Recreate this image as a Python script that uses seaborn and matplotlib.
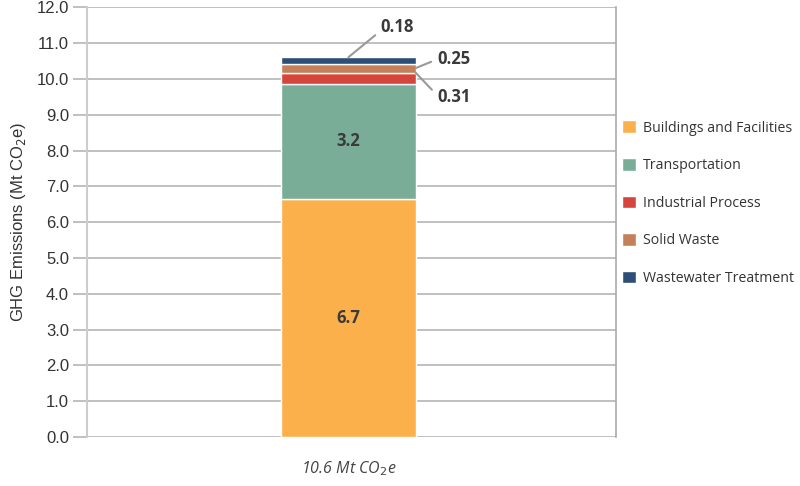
import matplotlib
matplotlib.use("Agg")
import matplotlib.pyplot as plt
import seaborn as sns

# data
categories = ["Buildings and Facilities", "Transportation", "Industrial Process",
              "Solid Waste", "Wastewater Treatment"]
values = [6.65, 3.22, 0.31, 0.25, 0.18]
value_labels = ["6.7", "3.2", "0.31", "0.25", "0.18"]
colors = ["#FBB04B", "#79AD98", "#D6453B", "#C4805A", "#2C4E77"]
bar_label = "10.6 Mt CO$_2$e"
yticks = [0, 1, 2, 3, 4, 5, 6, 7, 8, 9, 10, 11, 12]

sns.set_style("white")
plt.rcParams["font.family"] = ["Open Sans", "DejaVu Sans"]

fig = plt.figure(figsize=(8, 4.86), dpi=100)
ax = fig.add_axes([0.10875, 0.1008, 0.66125, 0.8838])

bottom = 0
bottoms = []
for cat, val, col in zip(categories, values, colors):
    sns.barplot(x=[bar_label], y=[val], bottom=bottom, color=col, width=0.5,
                saturation=1, edgecolor="white", linewidth=1.0, label=cat,
                ax=ax, zorder=3)
    bottoms.append(bottom)
    bottom += val
handles, labels = ax.get_legend_handles_labels()
if ax.get_legend() is not None:
    ax.get_legend().remove()

ax.set_xlim(-0.973, 0.996)
ax.set_ylim(0, 12)
ax.set_yticks(yticks)
ax.set_yticklabels([f"{t:.1f}" for t in yticks], family="Liberation Sans",
                   fontsize=12, color="#333333")
ax.yaxis.grid(True, color="#b5b5b5", linewidth=1.2, zorder=0)
ax.tick_params(axis="y", length=10, width=1.2, color="#b5b5b5", left=True, pad=3)
ax.tick_params(axis="x", length=0, pad=16)
for lab in ax.get_xticklabels():
    lab.set_fontstyle("italic")
    lab.set_fontsize(11.5)
    lab.set_color("#444444")

for side in ["top", "bottom"]:
    ax.spines[side].set_visible(False)
ax.spines["left"].set_color("#cccccc")
ax.spines["left"].set_linewidth(1.5)
ax.spines["right"].set_color("#aaaaaa")
ax.spines["right"].set_linewidth(1.2)

ax.set_ylabel("GHG Emissions (Mt CO$_2$e)", family="Liberation Sans",
              fontsize=12, color="#333333", labelpad=6)
ax.set_xlabel("")

# big segment labels inside bars
for i in range(2):
    ax.text(0, bottoms[i] + values[i] / 2, value_labels[i], ha="center",
            va="center", fontsize=12, fontweight="bold", color="#3a3a3a", zorder=5)

# small segment labels with leader lines
callouts = [
    (2, (0.25, bottoms[2] + values[2]), (0.33, 9.5), (0, 0.6)),
    (3, (0.25, bottoms[3] + values[3] / 2), (0.33, 10.55), (0, 0.5)),
    (4, (0.0, bottoms[4] + values[4]), (0.12, 11.45), (0, 0.3)),
]
for idx, xy, xytext, rp in callouts:
    ax.annotate(value_labels[idx], xy=xy, xytext=xytext, ha="left", va="center",
                fontsize=12, fontweight="bold", color="#3a3a3a",
                arrowprops=dict(arrowstyle="-", color="#999999", lw=1.5,
                                shrinkA=2, shrinkB=0, relpos=rp),
                annotation_clip=False, zorder=5)

leg = fig.legend(handles, labels, loc="upper left", bbox_to_anchor=(0.77, 0.764),
                 frameon=False, fontsize=10.2, handlelength=1.0, handleheight=1.0,
                 labelspacing=1.58, handletextpad=0.5, borderaxespad=0)
for t in leg.get_texts():
    t.set_color("#333333")

fig.savefig("out.png", dpi=100)
